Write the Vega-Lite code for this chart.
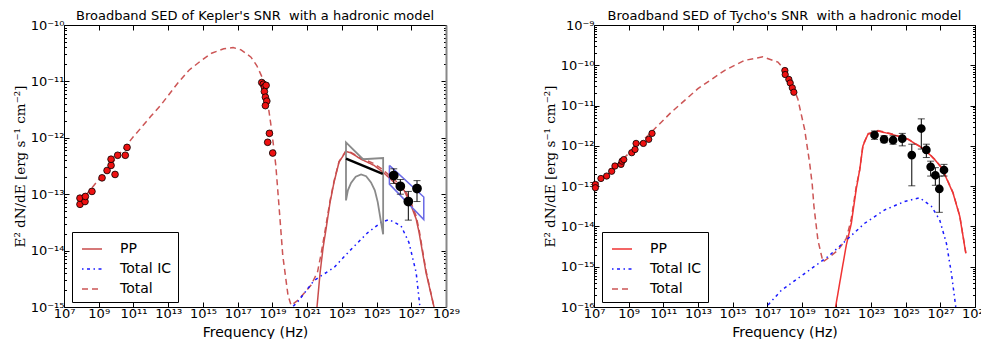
{
  "$schema": "https://vega.github.io/schema/vega-lite/v6.json",
  "background": "white",
  "padding": {"left": 13, "top": 10, "right": 0, "bottom": 0},
  "bounds": "flush",
  "spacing": 148,
  "config": {
    "view": {"stroke": null},
    "font": "DejaVu Sans",
    "title": {"font": "DejaVu Sans", "fontSize": 13, "fontWeight": "normal", "color": "black", "offset": -4},
    "axis": {"grid": false, "labelFont": "DejaVu Sans", "labelFontSize": 13, "labelColor": "black", "tickColor": "black", "domainColor": "black", "labelFlush": false, "labelOverlap": false, "titleColor": "black", "titleFontWeight": "normal"},
    "legend": {"orient": "none", "legendX": 8, "legendY": 207, "strokeColor": "black", "fillColor": "white", "padding": 6, "symbolType": "stroke", "symbolSize": 400, "symbolStrokeWidth": 1.5, "symbolOffset": 3, "labelOffset": 17, "labelFontSize": 14, "labelFont": "DejaVu Sans", "labelColor": "black", "rowPadding": 2, "cornerRadius": 0, "title": null}
  },
  "datasets": {
    "left_lines": [
      {"nu": 7.08e7, "flux": 7.08e-14, "s": "Total"}, {"nu": 3.16e8, "flux": 1.175e-13, "s": "Total"}, {"nu": 1e9, "flux": 1.82e-13, "s": "Total"}, {"nu": 3.16e9, "flux": 2.82e-13, "s": "Total"}, {"nu": 1e10, "flux": 4.37e-13, "s": "Total"}, {"nu": 3.16e10, "flux": 6.76e-13, "s": "Total"}, {"nu": 1e11, "flux": 1.05e-12, "s": "Total"}, {"nu": 3.16e11, "flux": 1.58e-12, "s": "Total"}, {"nu": 1e12, "flux": 2.40e-12, "s": "Total"}, {"nu": 3.98e12, "flux": 3.89e-12, "s": "Total"}, {"nu": 3.16e13, "flux": 8.91e-12, "s": "Total"}, {"nu": 1.58e14, "flux": 1.58e-11, "s": "Total"}, {"nu": 7.94e14, "flux": 2.34e-11, "s": "Total"}, {"nu": 3.16e15, "flux": 3.16e-11, "s": "Total"}, {"nu": 1.58e16, "flux": 3.80e-11, "s": "Total"}, {"nu": 5.5e16, "flux": 3.98e-11, "s": "Total"}, {"nu": 1.58e17, "flux": 3.63e-11, "s": "Total"}, {"nu": 5.89e17, "flux": 2.69e-11, "s": "Total"}, {"nu": 1.26e18, "flux": 1.91e-11, "s": "Total"}, {"nu": 2.88e18, "flux": 1.10e-11, "s": "Total"}, {"nu": 5.01e18, "flux": 5.01e-12, "s": "Total"}, {"nu": 8.32e18, "flux": 1.66e-12, "s": "Total"}, {"nu": 1.12e19, "flux": 7.94e-13, "s": "Total"}, {"nu": 1.58e19, "flux": 3.24e-13, "s": "Total"}, {"nu": 2.40e19, "flux": 6.31e-14, "s": "Total"}, {"nu": 3.98e19, "flux": 8.13e-15, "s": "Total"}, {"nu": 7.94e19, "flux": 1.62e-15, "s": "Total"}, {"nu": 1.20e20, "flux": 1.07e-15, "s": "Total"}, {"nu": 3.02e20, "flux": 1.32e-15, "s": "Total"}, {"nu": 1.70e21, "flux": 2.45e-15, "s": "Total"}, {"nu": 3.98e21, "flux": 4.17e-15, "s": "Total"}, {"nu": 6.31e21, "flux": 8.51e-15, "s": "Total"}, {"nu": 1.23e22, "flux": 2.82e-14, "s": "Total"}, {"nu": 2.09e22, "flux": 7.59e-14, "s": "Total"}, {"nu": 3.55e22, "flux": 1.70e-13, "s": "Total"}, {"nu": 6.92e22, "flux": 3.80e-13, "s": "Total"}, {"nu": 1.74e23, "flux": 5.89e-13, "s": "Total"}, {"nu": 3.39e23, "flux": 5.50e-13, "s": "Total"}, {"nu": 1.29e24, "flux": 4.37e-13, "s": "Total"}, {"nu": 7.24e24, "flux": 3.47e-13, "s": "Total"}, {"nu": 2.40e25, "flux": 2.69e-13, "s": "Total"}, {"nu": 1.02e26, "flux": 1.82e-13, "s": "Total"}, {"nu": 3.89e26, "flux": 1.29e-13, "s": "Total"}, {"nu": 9.77e26, "flux": 7.08e-14, "s": "Total"}, {"nu": 1.91e27, "flux": 4.07e-14, "s": "Total"}, {"nu": 2.82e27, "flux": 2.34e-14, "s": "Total"}, {"nu": 7.08e27, "flux": 4.37e-15, "s": "Total"}, {"nu": 2.04e28, "flux": 1.0e-15, "s": "Total"}, {"nu": 2.51e28, "flux": 6.31e-16, "s": "Total"},
      {"nu": 3.16e21, "flux": 7.08e-16, "s": "PP"}, {"nu": 3.72e21, "flux": 1e-15, "s": "PP"}, {"nu": 5.62e21, "flux": 4.07e-15, "s": "PP"}, {"nu": 8.32e21, "flux": 1.12e-14, "s": "PP"}, {"nu": 1.23e22, "flux": 2.40e-14, "s": "PP"}, {"nu": 2.09e22, "flux": 7.08e-14, "s": "PP"}, {"nu": 3.55e22, "flux": 1.62e-13, "s": "PP"}, {"nu": 6.92e22, "flux": 3.72e-13, "s": "PP"}, {"nu": 1.74e23, "flux": 5.75e-13, "s": "PP"}, {"nu": 3.39e23, "flux": 5.37e-13, "s": "PP"}, {"nu": 1.29e24, "flux": 4.17e-13, "s": "PP"}, {"nu": 7.24e24, "flux": 3.24e-13, "s": "PP"}, {"nu": 2.40e25, "flux": 2.45e-13, "s": "PP"}, {"nu": 1.02e26, "flux": 1.62e-13, "s": "PP"}, {"nu": 3.89e26, "flux": 1.17e-13, "s": "PP"}, {"nu": 9.77e26, "flux": 6.31e-14, "s": "PP"}, {"nu": 1.91e27, "flux": 3.63e-14, "s": "PP"}, {"nu": 2.82e27, "flux": 2.09e-14, "s": "PP"}, {"nu": 7.08e27, "flux": 4.07e-15, "s": "PP"}, {"nu": 2.04e28, "flux": 1e-15, "s": "PP"}, {"nu": 2.51e28, "flux": 6.31e-16, "s": "PP"},
      {"nu": 1e20, "flux": 8.91e-16, "s": "Total IC"}, {"nu": 3.02e20, "flux": 1.26e-15, "s": "Total IC"}, {"nu": 2.51e21, "flux": 2.95e-15, "s": "Total IC"}, {"nu": 3.55e22, "flux": 5.01e-15, "s": "Total IC"}, {"nu": 3.39e23, "flux": 1.05e-14, "s": "Total IC"}, {"nu": 3.16e24, "flux": 2.09e-14, "s": "Total IC"}, {"nu": 1.82e25, "flux": 3.16e-14, "s": "Total IC"}, {"nu": 5.25e25, "flux": 3.55e-14, "s": "Total IC"}, {"nu": 2.57e26, "flux": 2.75e-14, "s": "Total IC"}, {"nu": 7.41e26, "flux": 1.38e-14, "s": "Total IC"}, {"nu": 1.91e27, "flux": 4.07e-15, "s": "Total IC"}, {"nu": 3.16e27, "flux": 1e-15, "s": "Total IC"}, {"nu": 3.55e27, "flux": 7.94e-16, "s": "Total IC"}
    ],
    "left_red": [
      {"nu": 8.32e7, "flux": 6.61e-14}, {"nu": 8.32e7, "flux": 8.51e-14}, {"nu": 1.62e8, "flux": 7.41e-14}, {"nu": 1.70e8, "flux": 9.12e-14}, {"nu": 4.07e8, "flux": 1.12e-13}, {"nu": 1.55e9, "flux": 1.95e-13}, {"nu": 8.71e9, "flux": 2.24e-13}, {"nu": 3.02e9, "flux": 2.63e-13}, {"nu": 5.13e9, "flux": 3.24e-13}, {"nu": 5.13e9, "flux": 4.17e-13}, {"nu": 1.23e10, "flux": 4.90e-13}, {"nu": 3.39e10, "flux": 4.90e-13}, {"nu": 4.27e10, "flux": 6.76e-13},
      {"nu": 2.45e18, "flux": 9.55e-12}, {"nu": 3.02e18, "flux": 8.91e-12}, {"nu": 3.47e18, "flux": 7.94e-12}, {"nu": 4.37e18, "flux": 8.51e-12}, {"nu": 3.47e18, "flux": 6.61e-12}, {"nu": 3.98e18, "flux": 5.25e-12}, {"nu": 4.79e18, "flux": 4.47e-12}, {"nu": 3.98e18, "flux": 3.72e-12}, {"nu": 6.76e18, "flux": 1.20e-12}, {"nu": 5.37e18, "flux": 8.32e-13}, {"nu": 1.05e19, "flux": 5.37e-13}
    ],
    "left_black": [
      {"nu": 9.77e25, "flux": 2.14e-13, "hi": 2.82e-13, "lo": 1.55e-13},
      {"nu": 2.34e26, "flux": 1.38e-13, "hi": 1.82e-13, "lo": 1.0e-13},
      {"nu": 6.76e26, "flux": 7.41e-14, "hi": 1.12e-13, "lo": 3.47e-14},
      {"nu": 2.14e27, "flux": 1.26e-13, "hi": 1.74e-13, "lo": 7.41e-14}
    ],
    "left_gray": [
      {"i": 1, "nu": 1.74e23, "flux": 7.76e-14}, {"i": 2, "nu": 1.74e23, "flux": 8.32e-13}, {"i": 3, "nu": 1.66e24, "flux": 4.17e-13}, {"i": 4, "nu": 2.40e25, "flux": 4.37e-13}, {"i": 5, "nu": 2.40e25, "flux": 1.95e-14}, {"i": 6, "nu": 1.82e25, "flux": 3.16e-14}, {"i": 7, "nu": 1.17e25, "flux": 7.24e-14}, {"i": 8, "nu": 7.94e24, "flux": 1.17e-13}, {"i": 9, "nu": 4.79e24, "flux": 1.62e-13}, {"i": 10, "nu": 2.51e24, "flux": 2.09e-13}, {"i": 11, "nu": 1.29e24, "flux": 2.24e-13}, {"i": 12, "nu": 6.31e23, "flux": 2.04e-13}, {"i": 13, "nu": 3.39e23, "flux": 1.58e-13}, {"i": 14, "nu": 2.24e23, "flux": 1.17e-13}, {"i": 15, "nu": 1.74e23, "flux": 7.76e-14}
    ],
    "left_bline": [
      {"nu": 1.74e23, "flux": 4.27e-13}, {"nu": 2.29e25, "flux": 2.29e-13}
    ],
    "left_blue": [
      {"i": 1, "nu": 5.50e25, "flux": 3.24e-13}, {"i": 2, "nu": 5.50e25, "flux": 1.51e-13}, {"i": 3, "nu": 5.25e27, "flux": 3.55e-14}, {"i": 4, "nu": 5.25e27, "flux": 8.91e-14}, {"i": 5, "nu": 5.50e25, "flux": 3.24e-13}
    ],
    "right_lines": [
      {"nu": 1e7, "flux": 1e-13, "s": "Total"}, {"nu": 3.16e7, "flux": 1.58e-13, "s": "Total"}, {"nu": 1e8, "flux": 2.51e-13, "s": "Total"}, {"nu": 3.16e8, "flux": 3.98e-13, "s": "Total"}, {"nu": 1e9, "flux": 6.46e-13, "s": "Total"}, {"nu": 3.16e9, "flux": 1.02e-12, "s": "Total"}, {"nu": 1.26e10, "flux": 1.78e-12, "s": "Total"}, {"nu": 2.82e11, "flux": 6.76e-12, "s": "Total"}, {"nu": 1e13, "flux": 2.63e-11, "s": "Total"}, {"nu": 3.39e14, "flux": 7.41e-11, "s": "Total"}, {"nu": 4.90e15, "flux": 1.32e-10, "s": "Total"}, {"nu": 5.62e16, "flux": 1.62e-10, "s": "Total"}, {"nu": 4.17e17, "flux": 1.20e-10, "s": "Total"}, {"nu": 1.58e18, "flux": 6.17e-11, "s": "Total"}, {"nu": 5.89e18, "flux": 1.45e-11, "s": "Total"}, {"nu": 1.45e19, "flux": 2.57e-12, "s": "Total"}, {"nu": 2.82e19, "flux": 3.80e-13, "s": "Total"}, {"nu": 3.98e19, "flux": 1.12e-13, "s": "Total"}, {"nu": 5.01e19, "flux": 3.16e-14, "s": "Total"}, {"nu": 8.51e19, "flux": 4.57e-15, "s": "Total"}, {"nu": 1.66e20, "flux": 1.32e-15, "s": "Total"}, {"nu": 3.24e20, "flux": 1.62e-15, "s": "Total"}, {"nu": 1.23e21, "flux": 2.57e-15, "s": "Total"}, {"nu": 3.72e21, "flux": 5.01e-15, "s": "Total"}, {"nu": 5.75e21, "flux": 1.05e-14, "s": "Total"}, {"nu": 7.24e21, "flux": 1.58e-14, "s": "Total"}, {"nu": 1.38e22, "flux": 9.55e-14, "s": "Total"}, {"nu": 2.19e22, "flux": 2.51e-13, "s": "Total"}, {"nu": 3.39e22, "flux": 1.05e-12, "s": "Total"}, {"nu": 6.61e22, "flux": 2.0e-12, "s": "Total"}, {"nu": 2.51e23, "flux": 2.40e-12, "s": "Total"}, {"nu": 1.48e24, "flux": 2.0e-12, "s": "Total"}, {"nu": 1.35e25, "flux": 1.48e-12, "s": "Total"}, {"nu": 1.23e26, "flux": 8.32e-13, "s": "Total"}, {"nu": 4.68e26, "flux": 4.68e-13, "s": "Total"}, {"nu": 1.15e27, "flux": 2.95e-13, "s": "Total"}, {"nu": 1.78e27, "flux": 2.0e-13, "s": "Total"}, {"nu": 5.37e27, "flux": 6.92e-14, "s": "Total"}, {"nu": 1.32e28, "flux": 1.82e-14, "s": "Total"}, {"nu": 2.95e28, "flux": 2.19e-15, "s": "Total"},
      {"nu": 7.94e20, "flux": 7.08e-17, "s": "PP"}, {"nu": 8.91e20, "flux": 1e-16, "s": "PP"}, {"nu": 1.91e21, "flux": 6.76e-16, "s": "PP"}, {"nu": 3.72e21, "flux": 3.47e-15, "s": "PP"}, {"nu": 7.24e21, "flux": 1.20e-14, "s": "PP"}, {"nu": 1.38e22, "flux": 8.32e-14, "s": "PP"}, {"nu": 2.19e22, "flux": 2.51e-13, "s": "PP"}, {"nu": 3.39e22, "flux": 1.0e-12, "s": "PP"}, {"nu": 6.61e22, "flux": 1.95e-12, "s": "PP"}, {"nu": 2.51e23, "flux": 2.34e-12, "s": "PP"}, {"nu": 1.48e24, "flux": 1.95e-12, "s": "PP"}, {"nu": 1.35e25, "flux": 1.45e-12, "s": "PP"}, {"nu": 1.23e26, "flux": 8.13e-13, "s": "PP"}, {"nu": 4.68e26, "flux": 4.57e-13, "s": "PP"}, {"nu": 1.15e27, "flux": 2.88e-13, "s": "PP"}, {"nu": 1.78e27, "flux": 1.95e-13, "s": "PP"}, {"nu": 5.37e27, "flux": 6.76e-14, "s": "PP"}, {"nu": 1.32e28, "flux": 1.78e-14, "s": "PP"}, {"nu": 2.95e28, "flux": 2.14e-15, "s": "PP"},
      {"nu": 7.94e16, "flux": 8.91e-17, "s": "Total IC"}, {"nu": 8.71e16, "flux": 1e-16, "s": "Total IC"}, {"nu": 6.46e17, "flux": 2.57e-16, "s": "Total IC"}, {"nu": 1.45e19, "flux": 6.76e-16, "s": "Total IC"}, {"nu": 3.24e20, "flux": 1.78e-15, "s": "Total IC"}, {"nu": 2.95e21, "flux": 4.17e-15, "s": "Total IC"}, {"nu": 4.27e22, "flux": 1.20e-14, "s": "Total IC"}, {"nu": 6.17e23, "flux": 2.57e-14, "s": "Total IC"}, {"nu": 8.71e24, "flux": 4.17e-14, "s": "Total IC"}, {"nu": 6.46e25, "flux": 5.13e-14, "s": "Total IC"}, {"nu": 3.02e26, "flux": 3.16e-14, "s": "Total IC"}, {"nu": 9.12e26, "flux": 1.45e-14, "s": "Total IC"}, {"nu": 2.24e27, "flux": 3.80e-15, "s": "Total IC"}, {"nu": 4.37e27, "flux": 6.76e-16, "s": "Total IC"}, {"nu": 7.76e27, "flux": 1e-16, "s": "Total IC"}, {"nu": 8.32e27, "flux": 7.94e-17, "s": "Total IC"}
    ],
    "right_red": [
      {"nu": 1.20e7, "flux": 1.10e-13}, {"nu": 1.20e7, "flux": 9.12e-14}, {"nu": 2.51e7, "flux": 1.55e-13}, {"nu": 5.37e7, "flux": 1.78e-13}, {"nu": 1.05e8, "flux": 2.34e-13}, {"nu": 1.62e8, "flux": 3.16e-13}, {"nu": 3.63e8, "flux": 3.47e-13}, {"nu": 4.17e8, "flux": 4.17e-13}, {"nu": 5.25e8, "flux": 4.57e-13}, {"nu": 1.51e9, "flux": 6.76e-13}, {"nu": 2.34e9, "flux": 8.13e-13}, {"nu": 2.69e9, "flux": 1.15e-12}, {"nu": 7.08e9, "flux": 1.15e-12}, {"nu": 1.45e10, "flux": 1.45e-12}, {"nu": 2.24e10, "flux": 2.04e-12},
      {"nu": 1.05e18, "flux": 7.41e-11}, {"nu": 1.10e18, "flux": 5.89e-11}, {"nu": 1.78e18, "flux": 4.47e-11}, {"nu": 2.14e18, "flux": 3.63e-11}, {"nu": 2.82e18, "flux": 2.75e-11}, {"nu": 3.47e18, "flux": 2.14e-11}
    ],
    "right_black": [
      {"nu": 1.58e23, "flux": 1.86e-12, "hi": 2.34e-12, "lo": 1.45e-12},
      {"nu": 5.62e23, "flux": 1.45e-12, "hi": 1.78e-12, "lo": 1.20e-12},
      {"nu": 1.86e24, "flux": 1.38e-12, "hi": 1.78e-12, "lo": 1.10e-12},
      {"nu": 6.31e24, "flux": 1.51e-12, "hi": 2.04e-12, "lo": 1.0e-12},
      {"nu": 2.24e25, "flux": 5.89e-13, "hi": 1.10e-12, "lo": 1.02e-13},
      {"nu": 7.94e25, "flux": 2.69e-12, "hi": 4.68e-12, "lo": 8.32e-13},
      {"nu": 1.55e26, "flux": 7.94e-13, "hi": 1.10e-12, "lo": 5.13e-13},
      {"nu": 2.75e26, "flux": 3.02e-13, "hi": 4.17e-13, "lo": 1.78e-13},
      {"nu": 5.13e26, "flux": 1.86e-13, "hi": 2.88e-13, "lo": 1.05e-13},
      {"nu": 8.71e26, "flux": 8.51e-14, "hi": 1.78e-13, "lo": 2.24e-14},
      {"nu": 1.62e27, "flux": 2.51e-13, "hi": 3.47e-13, "lo": 1.78e-13}
    ],
    "dummy": [{"nu": 1e10, "flux": 1e-12}]
  },
  "hconcat": [
    {
      "width": 382,
      "height": 282,
      "title": "Broadband SED of Kepler's SNR \u00a0with a hadronic model",
      "layer": [
        {
          "data": {"name": "left_lines"},
          "mark": {"type": "line", "strokeWidth": 1.5, "clip": true},
          "encoding": {
            "x": {"field": "nu", "type": "quantitative", "scale": {"type": "log", "domain": [1e7, 1e29], "nice": false},
              "axis": {"orient": "bottom", "values": [1e7, 1e9, 1e11, 1e13, 1e15, 1e17, 1e19, 1e21, 1e23, 1e25, 1e27, 1e29], "labelExpr": "abs(log(datum.value)/LN10 - round(log(datum.value)/LN10)) > 0.01 ? '' : '10' + (datum.value < 1 ? '⁻' : '') + (abs(round(log(datum.value)/LN10)) >= 10 ? ['⁰','¹','²','³','⁴','⁵','⁶','⁷','⁸','⁹'][floor(abs(round(log(datum.value)/LN10))/10)] : '') + ['⁰','¹','²','³','⁴','⁵','⁶','⁷','⁸','⁹'][abs(round(log(datum.value)/LN10)) % 10]", "title": "Frequency (Hz)", "titleFont": "DejaVu Sans", "titleFontSize": 14, "titlePadding": 5, "tickSize": -5, "labelPadding": 5}},
            "y": {"field": "flux", "type": "quantitative", "scale": {"type": "log", "domain": [1e-15, 1e-10], "nice": false},
              "axis": {"orient": "left", "values": [1e-15, 2e-15, 3e-15, 4e-15, 5e-15, 6e-15, 7e-15, 8e-15, 9e-15, 1e-14, 2e-14, 3e-14, 4e-14, 5e-14, 6e-14, 7e-14, 8e-14, 9e-14, 1e-13, 2e-13, 3e-13, 4e-13, 5e-13, 6e-13, 7e-13, 8e-13, 9e-13, 1e-12, 2e-12, 3e-12, 4e-12, 5e-12, 6e-12, 7e-12, 8e-12, 9e-12, 1e-11, 2e-11, 3e-11, 4e-11, 5e-11, 6e-11, 7e-11, 8e-11, 9e-11, 1e-10], "labelExpr": "abs(log(datum.value)/LN10 - round(log(datum.value)/LN10)) > 0.01 ? '' : '10' + (datum.value < 1 ? '⁻' : '') + (abs(round(log(datum.value)/LN10)) >= 10 ? ['⁰','¹','²','³','⁴','⁵','⁶','⁷','⁸','⁹'][floor(abs(round(log(datum.value)/LN10))/10)] : '') + ['⁰','¹','²','³','⁴','⁵','⁶','⁷','⁸','⁹'][abs(round(log(datum.value)/LN10)) % 10]", "title": "E² dN/dE [erg s⁻¹ cm⁻²]", "titleFont": "DejaVu Serif", "titleFontSize": 13.5, "titlePadding": 3, "tickSize": {"condition": {"test": "abs(log(datum.value)/LN10 - round(log(datum.value)/LN10)) < 0.01", "value": -5}, "value": -2.5}, "labelPadding": 5}},
            "color": {"field": "s", "type": "nominal", "scale": {"domain": ["PP", "Total IC", "Total"], "range": ["#c94c4c", "#1a1aff", "#cc5555"]}},
            "strokeDash": {"field": "s", "type": "nominal", "scale": {"domain": ["PP", "Total IC", "Total"], "range": [[1, 0], [1.5, 3.5, 3, 3.5], [6, 4]]}}
          }
        },
        {
          "data": {"name": "left_gray"},
          "mark": {"type": "line", "color": "#8a8a8a", "strokeWidth": 1.8},
          "encoding": {
            "x": {"field": "nu", "type": "quantitative", "scale": {"type": "log", "domain": [1e7, 1e29], "nice": false}, "axis": null},
            "y": {"field": "flux", "type": "quantitative", "scale": {"type": "log", "domain": [1e-15, 1e-10], "nice": false}, "axis": null},
            "order": {"field": "i", "type": "quantitative"}
          }
        },
        {
          "data": {"name": "left_bline"},
          "mark": {"type": "line", "color": "black", "strokeWidth": 2.5},
          "encoding": {
            "x": {"field": "nu", "type": "quantitative", "scale": {"type": "log", "domain": [1e7, 1e29], "nice": false}, "axis": null},
            "y": {"field": "flux", "type": "quantitative", "scale": {"type": "log", "domain": [1e-15, 1e-10], "nice": false}, "axis": null}
          }
        },
        {
          "data": {"name": "left_blue"},
          "mark": {"type": "line", "color": "#6a6ae6", "strokeWidth": 1.5},
          "encoding": {
            "x": {"field": "nu", "type": "quantitative", "scale": {"type": "log", "domain": [1e7, 1e29], "nice": false}, "axis": null},
            "y": {"field": "flux", "type": "quantitative", "scale": {"type": "log", "domain": [1e-15, 1e-10], "nice": false}, "axis": null},
            "order": {"field": "i", "type": "quantitative"}
          }
        },
        {
          "data": {"name": "left_black"},
          "mark": {"type": "errorbar", "ticks": {"size": 7}, "color": "black", "thickness": 1},
          "encoding": {
            "x": {"field": "nu", "type": "quantitative", "scale": {"type": "log", "domain": [1e7, 1e29], "nice": false}, "axis": null},
            "y": {"field": "lo", "type": "quantitative", "scale": {"type": "log", "domain": [1e-15, 1e-10], "nice": false}, "axis": null},
            "y2": {"field": "hi"}
          }
        },
        {
          "data": {"name": "left_black"},
          "mark": {"type": "circle", "fill": "black", "stroke": "black", "size": 60, "opacity": 1},
          "encoding": {
            "x": {"field": "nu", "type": "quantitative", "scale": {"type": "log", "domain": [1e7, 1e29], "nice": false}, "axis": null},
            "y": {"field": "flux", "type": "quantitative", "scale": {"type": "log", "domain": [1e-15, 1e-10], "nice": false}, "axis": null}
          }
        },
        {
          "data": {"name": "left_red"},
          "mark": {"type": "circle", "fill": "#ee1111", "stroke": "black", "strokeWidth": 0.8, "size": 45, "opacity": 1},
          "encoding": {
            "x": {"field": "nu", "type": "quantitative", "scale": {"type": "log", "domain": [1e7, 1e29], "nice": false}, "axis": null},
            "y": {"field": "flux", "type": "quantitative", "scale": {"type": "log", "domain": [1e-15, 1e-10], "nice": false}, "axis": null}
          }
        },
        {
          "data": {"name": "dummy"},
          "mark": {"type": "circle", "opacity": 0},
          "encoding": {
            "x": {"field": "nu", "type": "quantitative", "scale": {"type": "log", "domain": [1e7, 1e29], "nice": false},
              "axis": {"orient": "top", "values": [1e7, 1e9, 1e11, 1e13, 1e15, 1e17, 1e19, 1e21, 1e23, 1e25, 1e27, 1e29], "labels": false, "title": null, "tickSize": -5, "minExtent": 0, "maxExtent": 0}},
            "y": {"field": "flux", "type": "quantitative", "scale": {"type": "log", "domain": [1e-15, 1e-10], "nice": false},
              "axis": {"orient": "right", "values": [1e-15, 2e-15, 3e-15, 4e-15, 5e-15, 6e-15, 7e-15, 8e-15, 9e-15, 1e-14, 2e-14, 3e-14, 4e-14, 5e-14, 6e-14, 7e-14, 8e-14, 9e-14, 1e-13, 2e-13, 3e-13, 4e-13, 5e-13, 6e-13, 7e-13, 8e-13, 9e-13, 1e-12, 2e-12, 3e-12, 4e-12, 5e-12, 6e-12, 7e-12, 8e-12, 9e-12, 1e-11, 2e-11, 3e-11, 4e-11, 5e-11, 6e-11, 7e-11, 8e-11, 9e-11, 1e-10], "labels": false, "title": null, "minExtent": 0, "maxExtent": 0, "domainColor": "#888888", "domainWidth": 2, "tickSize": {"condition": {"test": "abs(log(datum.value)/LN10 - round(log(datum.value)/LN10)) < 0.01", "value": -5}, "value": -2.5}}}
          }
        }
      ],
      "resolve": {"axis": {"x": "independent", "y": "independent"}}
    },
    {
      "width": 381,
      "height": 282,
      "title": "Broadband SED of Tycho's SNR \u00a0with a hadronic model",
      "layer": [
        {
          "data": {"name": "right_lines"},
          "mark": {"type": "line", "strokeWidth": 1.5, "clip": true},
          "encoding": {
            "x": {"field": "nu", "type": "quantitative", "scale": {"type": "log", "domain": [1e7, 1e29], "nice": false},
              "axis": {"orient": "bottom", "values": [1e7, 1e9, 1e11, 1e13, 1e15, 1e17, 1e19, 1e21, 1e23, 1e25, 1e27, 1e29], "labelExpr": "abs(log(datum.value)/LN10 - round(log(datum.value)/LN10)) > 0.01 ? '' : '10' + (datum.value < 1 ? '⁻' : '') + (abs(round(log(datum.value)/LN10)) >= 10 ? ['⁰','¹','²','³','⁴','⁵','⁶','⁷','⁸','⁹'][floor(abs(round(log(datum.value)/LN10))/10)] : '') + ['⁰','¹','²','³','⁴','⁵','⁶','⁷','⁸','⁹'][abs(round(log(datum.value)/LN10)) % 10]", "title": "Frequency (Hz)", "titleFont": "DejaVu Sans", "titleFontSize": 14, "titlePadding": 5, "tickSize": -5, "labelPadding": 5}},
            "y": {"field": "flux", "type": "quantitative", "scale": {"type": "log", "domain": [1e-16, 1e-9], "nice": false},
              "axis": {"orient": "left", "values": [1e-16, 2e-16, 3e-16, 4e-16, 5e-16, 6e-16, 7e-16, 8e-16, 9e-16, 1e-15, 2e-15, 3e-15, 4e-15, 5e-15, 6e-15, 7e-15, 8e-15, 9e-15, 1e-14, 2e-14, 3e-14, 4e-14, 5e-14, 6e-14, 7e-14, 8e-14, 9e-14, 1e-13, 2e-13, 3e-13, 4e-13, 5e-13, 6e-13, 7e-13, 8e-13, 9e-13, 1e-12, 2e-12, 3e-12, 4e-12, 5e-12, 6e-12, 7e-12, 8e-12, 9e-12, 1e-11, 2e-11, 3e-11, 4e-11, 5e-11, 6e-11, 7e-11, 8e-11, 9e-11, 1e-10, 2e-10, 3e-10, 4e-10, 5e-10, 6e-10, 7e-10, 8e-10, 9e-10, 1e-9], "labelExpr": "abs(log(datum.value)/LN10 - round(log(datum.value)/LN10)) > 0.01 ? '' : '10' + (datum.value < 1 ? '⁻' : '') + (abs(round(log(datum.value)/LN10)) >= 10 ? ['⁰','¹','²','³','⁴','⁵','⁶','⁷','⁸','⁹'][floor(abs(round(log(datum.value)/LN10))/10)] : '') + ['⁰','¹','²','³','⁴','⁵','⁶','⁷','⁸','⁹'][abs(round(log(datum.value)/LN10)) % 10]", "title": "E² dN/dE [erg s⁻¹ cm⁻²]", "titleFont": "DejaVu Serif", "titleFontSize": 13.5, "titlePadding": 3, "tickSize": {"condition": {"test": "abs(log(datum.value)/LN10 - round(log(datum.value)/LN10)) < 0.01", "value": -5}, "value": -2.5}, "labelPadding": 5}},
            "color": {"field": "s", "type": "nominal", "scale": {"domain": ["PP", "Total IC", "Total"], "range": ["#f03333", "#1a1aff", "#cc5555"]}},
            "strokeDash": {"field": "s", "type": "nominal", "scale": {"domain": ["PP", "Total IC", "Total"], "range": [[1, 0], [1.5, 3.5, 3, 3.5], [6, 4]]}}
          }
        },
        {
          "data": {"name": "right_black"},
          "mark": {"type": "errorbar", "ticks": {"size": 7}, "color": "black", "thickness": 1},
          "encoding": {
            "x": {"field": "nu", "type": "quantitative", "scale": {"type": "log", "domain": [1e7, 1e29], "nice": false}, "axis": null},
            "y": {"field": "lo", "type": "quantitative", "scale": {"type": "log", "domain": [1e-16, 1e-9], "nice": false}, "axis": null},
            "y2": {"field": "hi"}
          }
        },
        {
          "data": {"name": "right_black"},
          "mark": {"type": "circle", "fill": "black", "stroke": "black", "size": 45, "opacity": 1},
          "encoding": {
            "x": {"field": "nu", "type": "quantitative", "scale": {"type": "log", "domain": [1e7, 1e29], "nice": false}, "axis": null},
            "y": {"field": "flux", "type": "quantitative", "scale": {"type": "log", "domain": [1e-16, 1e-9], "nice": false}, "axis": null}
          }
        },
        {
          "data": {"name": "right_red"},
          "mark": {"type": "circle", "fill": "#ee1111", "stroke": "black", "strokeWidth": 0.8, "size": 40, "opacity": 1},
          "encoding": {
            "x": {"field": "nu", "type": "quantitative", "scale": {"type": "log", "domain": [1e7, 1e29], "nice": false}, "axis": null},
            "y": {"field": "flux", "type": "quantitative", "scale": {"type": "log", "domain": [1e-16, 1e-9], "nice": false}, "axis": null}
          }
        },
        {
          "data": {"name": "dummy"},
          "mark": {"type": "circle", "opacity": 0},
          "encoding": {
            "x": {"field": "nu", "type": "quantitative", "scale": {"type": "log", "domain": [1e7, 1e29], "nice": false},
              "axis": {"orient": "top", "values": [1e7, 1e9, 1e11, 1e13, 1e15, 1e17, 1e19, 1e21, 1e23, 1e25, 1e27, 1e29], "labels": false, "title": null, "tickSize": -5, "minExtent": 0, "maxExtent": 0}},
            "y": {"field": "flux", "type": "quantitative", "scale": {"type": "log", "domain": [1e-16, 1e-9], "nice": false},
              "axis": {"orient": "right", "values": [1e-16, 2e-16, 3e-16, 4e-16, 5e-16, 6e-16, 7e-16, 8e-16, 9e-16, 1e-15, 2e-15, 3e-15, 4e-15, 5e-15, 6e-15, 7e-15, 8e-15, 9e-15, 1e-14, 2e-14, 3e-14, 4e-14, 5e-14, 6e-14, 7e-14, 8e-14, 9e-14, 1e-13, 2e-13, 3e-13, 4e-13, 5e-13, 6e-13, 7e-13, 8e-13, 9e-13, 1e-12, 2e-12, 3e-12, 4e-12, 5e-12, 6e-12, 7e-12, 8e-12, 9e-12, 1e-11, 2e-11, 3e-11, 4e-11, 5e-11, 6e-11, 7e-11, 8e-11, 9e-11, 1e-10, 2e-10, 3e-10, 4e-10, 5e-10, 6e-10, 7e-10, 8e-10, 9e-10, 1e-9], "labels": false, "title": null, "minExtent": 0, "maxExtent": 0, "tickSize": {"condition": {"test": "abs(log(datum.value)/LN10 - round(log(datum.value)/LN10)) < 0.01", "value": -5}, "value": -2.5}}}
          }
        }
      ],
      "resolve": {"axis": {"x": "independent", "y": "independent"}}
    }
  ],
  "resolve": {
    "scale": {"x": "independent", "y": "independent", "color": "independent", "strokeDash": "independent"},
    "legend": {"color": "independent", "strokeDash": "independent"}
  }
}
